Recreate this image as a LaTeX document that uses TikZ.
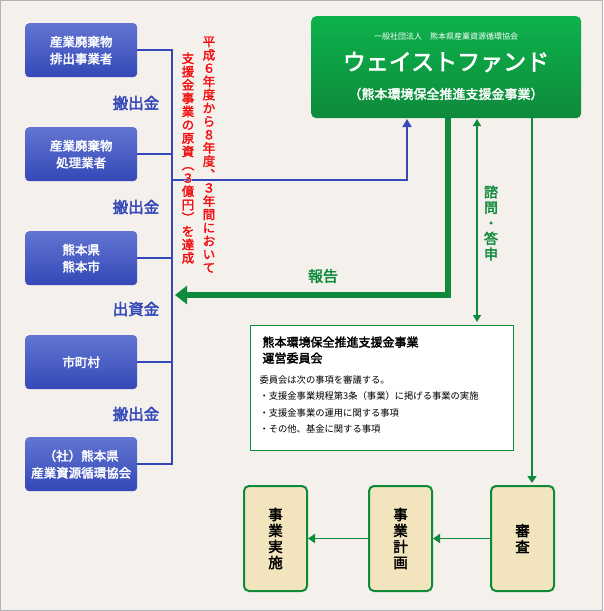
\documentclass[tikz,border=0pt]{standalone}
\usepackage{fontspec}
\setmainfont{Noto Sans CJK JP}
\newfontfamily\jpb{Noto Sans CJK JP}[FakeBold=2.5]
\newfontfamily\jph{Noto Sans CJK JP}[FakeBold=9]
\usetikzlibrary{arrows.meta}
\definecolor{bg}{HTML}{F4F0EC}
\definecolor{bl}{HTML}{3448B8}
\definecolor{blt}{HTML}{6275D2}
\definecolor{gr}{HTML}{0E8A3B}
\definecolor{grt}{HTML}{0DB24C}
\definecolor{bei}{HTML}{F2E5BE}
\definecolor{rd}{HTML}{F01010}
\begin{document}
\begin{tikzpicture}[x=1pt,y=-1pt,
 bbox/.style={rounded corners=4pt,top color=blt,bottom color=bl,draw=none,minimum width=112pt,minimum height=54pt,text=white,font=\jpb\fontsize{12.5}{17}\selectfont,align=center,anchor=north west},
 blab/.style={text=bl,font=\jpb\fontsize{15.5}{18}\selectfont},
 bline/.style={draw=bl,line width=1.5pt},
 gbox/.style={rounded corners=5pt,fill=bei,draw=gr,line width=2pt,minimum width=63pt,minimum height=105pt,anchor=north west,font=\jpb\fontsize{14.5}{16}\selectfont,align=center},
 gthin/.style={draw=gr,line width=1.5pt},
 red/.style={text=rd,font=\jpb\fontsize{12.5}{13.3}\selectfont,align=center,anchor=north},
 redh/.style={text=white,font=\jph\fontsize{12.5}{13.3}\selectfont,align=center,anchor=north}]
\useasboundingbox (0,0) rectangle (603,611);
\fill[bg,draw=gray!60,line width=1pt] (0.5,0.5) rectangle (602.5,610.5);
% left boxes
\node[bbox] (b1) at (25,23) {産業廃棄物\\排出事業者};
\node[bbox] (b2) at (25,127) {産業廃棄物\\処理業者};
\node[bbox] (b3) at (25,231) {熊本県\\熊本市};
\node[bbox] (b4) at (25,335) {市町村};
\node[bbox] (b5) at (25,437) {（社）熊本県\\産業資源循環協会};
\coordinate (t) at (172,50);
\coordinate (bt) at (172,464);
\draw[bline] (b1.east) -- (b1.east -| t) -- (b5.east -| t) -- (b5.east);
\draw[bline] (b2.east) -- (b2.east -| t);
\draw[bline] (b3.east) -- (b3.east -| t);
\draw[bline] (b4.east) -- (b4.east -| t);
\node[blab] (l1) at (136,103) {搬出金};
\node[blab] (l2) at (136,207) {搬出金};
\node[blab] (l3) at (136,309) {出資金};
\node[blab] (l4) at (136,414) {搬出金};
% green box
\node[rounded corners=5pt,top color=grt,bottom color=gr,minimum width=270pt,minimum height=102pt,anchor=north west] (wf) at (311,16) {};
\node[text=white,font=\fontsize{8}{10}\selectfont] (w1) at (446,36) {一般社団法人\quad 熊本県産業資源循環協会};
\node[text=white,font=\jpb\fontsize{23}{26}\selectfont] (w2) at (446,62) {ウェイストファンド};
\node[text=white,font=\jpb\fontsize{13}{15}\selectfont] (w3) at (446,94) {（熊本環境保全推進支援金事業）};
\coordinate (j) at (407,180);
\draw[bline,-{Triangle[length=8pt,width=9pt]}] (b1.east -| t) |- (j) -- (407,119);
% red text
\node[redh] (r1h) at (209,33) {平\\成\\６\\年\\度\\か\\ら\\８\\年\\度\\︑\\３\\年\\間\\に\\お\\い\\て};
\node[redh] (r2h) at (188,49) {支\\援\\金\\事\\業\\の\\原\\資\\︵\\３\\億\\円\\︶\\を\\達\\成};
\node[red] (r1) at (209,33) {平\\成\\６\\年\\度\\か\\ら\\８\\年\\度\\︑\\３\\年\\間\\に\\お\\い\\て};
\node[red] (r2) at (188,49) {支\\援\\金\\事\\業\\の\\原\\資\\︵\\３\\億\\円\\︶\\を\\達\\成};
% report arrow
\coordinate (rp) at (448,295);
\draw[draw=gr,line width=6pt,-{Triangle[length=12pt,width=18pt]}] (448,118) -- (rp) -- (175,295);
\node[text=gr,font=\jpb\fontsize{15}{16}\selectfont] (rep) at (323,276) {報告};
% consult
\draw[gthin,{Triangle[length=7pt,width=8pt]}-{Triangle[length=7pt,width=8pt]}] (477,119) -- (477,322);
\node[text=gr,font=\jpb\fontsize{14}{15.5}\selectfont,align=center] (sm) at (491,223) {諮\\問\\・\\答\\申};
% committee
\node[draw=gr,fill=white,line width=1pt,minimum width=263pt,minimum height=125pt,anchor=north west] (cm) at (250,325) {};
\node[anchor=north west,align=left,font=\jpb\fontsize{12}{16}\selectfont] (ct) at (259,333) {熊本環境保全推進支援金事業\\運営委員会};
\node[anchor=north west,align=left,font=\fontsize{9.3}{16.5}\selectfont] (cb) at (256,372) {委員会は次の事項を審議する。\\・支援金事業規程第3条（事業）に掲げる事業の実施\\・支援金事業の運用に関する事項\\・その他、基金に関する事項};
% bottom
\node[gbox] (s1) at (490,485) {審\\査};
\node[gbox] (s2) at (368,485) {事\\業\\計\\画};
\node[gbox] (s3) at (243,485) {事\\業\\実\\施};
\draw[gthin,-{Triangle[length=7pt,width=9pt]}] (532,118) -- (532,483);
\draw[gthin,-{Triangle[length=7pt,width=9pt]}] (s1.west) -- (s2.east);
\draw[gthin,-{Triangle[length=7pt,width=9pt]}] (s2.west) -- (s3.east);
\end{tikzpicture}
\end{document}
